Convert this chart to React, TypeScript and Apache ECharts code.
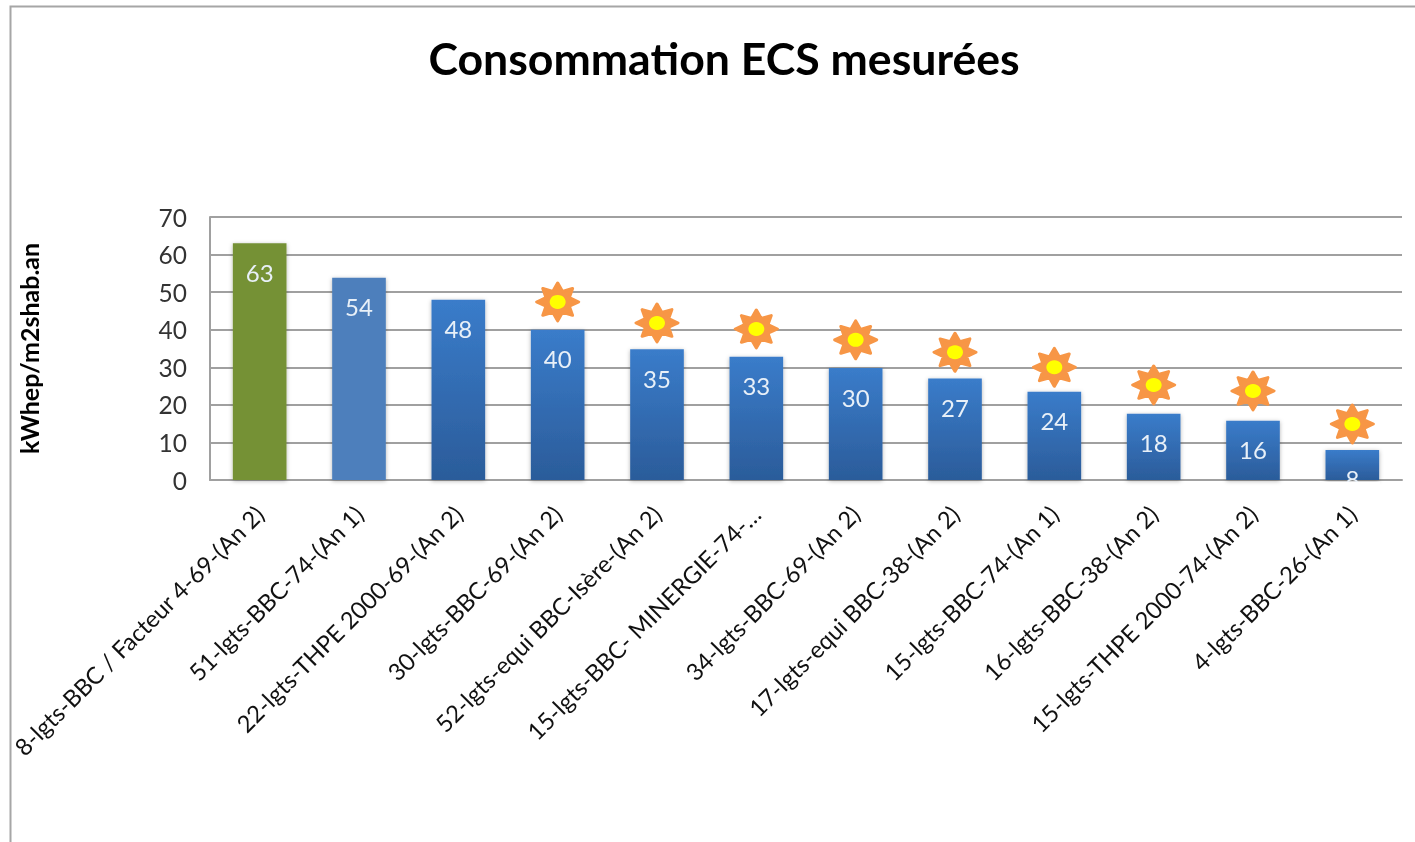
import React, { useEffect, useRef } from "react";
import * as echarts from "echarts";

const categories = [
  "8-lgts-BBC / Facteur 4-69-(An 2)",
  "51-lgts-BBC-74-(An 1)",
  "22-lgts-THPE 2000-69-(An 2)",
  "30-lgts-BBC-69-(An 2)",
  "52-lgts-equi BBC-Isère-(An 2)",
  "15-lgts-BBC- MINERGIE-74-…",
  "34-lgts-BBC-69-(An 2)",
  "17-lgts-equi BBC-38-(An 2)",
  "15-lgts-BBC-74-(An 1)",
  "16-lgts-BBC-38-(An 2)",
  "15-lgts-THPE 2000-74-(An 2)",
  "4-lgts-BBC-26-(An 1)",
];
const values = [63, 53.8, 48, 40, 34.8, 32.8, 29.8, 27, 23.5, 17.6, 15.8, 8];
const sunHeights = [null, null, null, 47.4, 41.8, 40.2, 37.3, 34, 30, 25.3, 23.7, 14.9];
const yTicks = { min: 0, max: 70, interval: 10 };
const titleText = "Consommation ECS mesurées";
const yName = "kWhep/m2shab.an";

const FONT = "Lato";
const starPath = (() => {
  let d = "";
  for (let i = 0; i < 16; i++) {
    const r = i % 2 === 0 ? 50 : 30;
    const a = (i * Math.PI) / 8 - Math.PI / 2;
    d += `${i === 0 ? "M" : "L"}${(50 + r * Math.cos(a)).toFixed(2)} ${(50 + r * Math.sin(a)).toFixed(2)}`;
  }
  return "path://" + d + "Z";
})();

const blueGradient = new echarts.graphic.LinearGradient(0, 0, 0, 1, [
  { offset: 0, color: "#3a7cca" },
  { offset: 1, color: "#2b5c9a" },
]);

function barColor(i: number) {
  if (i === 0) return "#759135";
  if (i === 1) return "#4d7fbc";
  return blueGradient;
}

export default function App() {
  const ref = useRef<HTMLDivElement>(null);
  useEffect(() => {
    const chart = echarts.init(ref.current!, undefined, { renderer: "svg" });
    chart.setOption({
      animation: false,
      backgroundColor: "#ffffff",
      title: {
        text: titleText,
        left: 719,
        top: 30,
        textAlign: "center",
        textStyle: { fontFamily: FONT, fontSize: 44.6, fontWeight: "bold", color: "#000000" },
      },
      grid: { left: 210, right: 13, top: 217, bottom: 362, containLabel: false },
      xAxis: {
        type: "category",
        data: categories,
        axisLine: { lineStyle: { color: "#a0a0a0", width: 2 } },
        axisTick: { show: false },
        axisLabel: {
          interval: 0,
          rotate: 45,
          margin: 30,
          fontFamily: FONT,
          fontSize: 23.7,
          color: "#111111",
        },
      },
      yAxis: {
        type: "value",
        min: yTicks.min,
        max: yTicks.max,
        interval: yTicks.interval,
        name: yName,
        nameLocation: "middle",
        nameGap: 169,
        nameTextStyle: { fontFamily: FONT, fontSize: 25, fontWeight: "bold", color: "#000000" },
        axisLine: { show: true, lineStyle: { color: "#a0a0a0", width: 2 } },
        axisTick: { show: false },
        axisLabel: { margin: 23, fontFamily: FONT, fontSize: 24.5, color: "#333333" },
        splitLine: { lineStyle: { color: "#a0a0a0", width: 2 } },
      },
      series: [
        {
          type: "bar",
          barWidth: "54%",
          z: 3,
          data: values.map((v, i) => ({
            value: v,
            itemStyle: {
              color: barColor(i),
              shadowBlur: 4,
              shadowColor: "rgba(0,0,0,0.3)",
              shadowOffsetY: 1,
            },
          })),
          label: {
            show: true,
            position: "insideTop",
            distance: 17,
            fontFamily: FONT,
            fontSize: 24,
            color: "#e8f0f8",
            formatter: (p: any) => String(Math.round(p.value)),
          },
        },
        {
          type: "scatter",
          data: sunHeights,
          symbol: starPath,
          symbolSize: [42, 38],
          z: 4,
          itemStyle: {
            color: "#f79646",
            borderColor: "#f79646",
            borderWidth: 3,
            borderJoin: "round",
            opacity: 1,
          },
        },
        {
          type: "scatter",
          data: sunHeights,
          symbol: "circle",
          symbolSize: [16, 14],
          z: 5,
          itemStyle: { color: "#ffff00", opacity: 1 },
        },
      ],
      graphic: [
        {
          type: "polyline",
          z: 10,
          shape: { points: [[10.5, 842], [10.5, 6.5], [1415, 6.5]] },
          style: { stroke: "#a6a6a6", lineWidth: 2, fill: "none" },
        },
        {
          type: "rect",
          z: 10,
          shape: { x: 1322, y: 482, width: 58, height: 12 },
          style: { fill: "#ffffff" },
        },
      ],
    });
    return () => chart.dispose();
  }, []);
  return (
    <div
      ref={ref}
      style={{ position: "absolute", left: 0, top: 0, width: 1415, height: 842, filter: "blur(0.5px)" }}
    />
  );
}
